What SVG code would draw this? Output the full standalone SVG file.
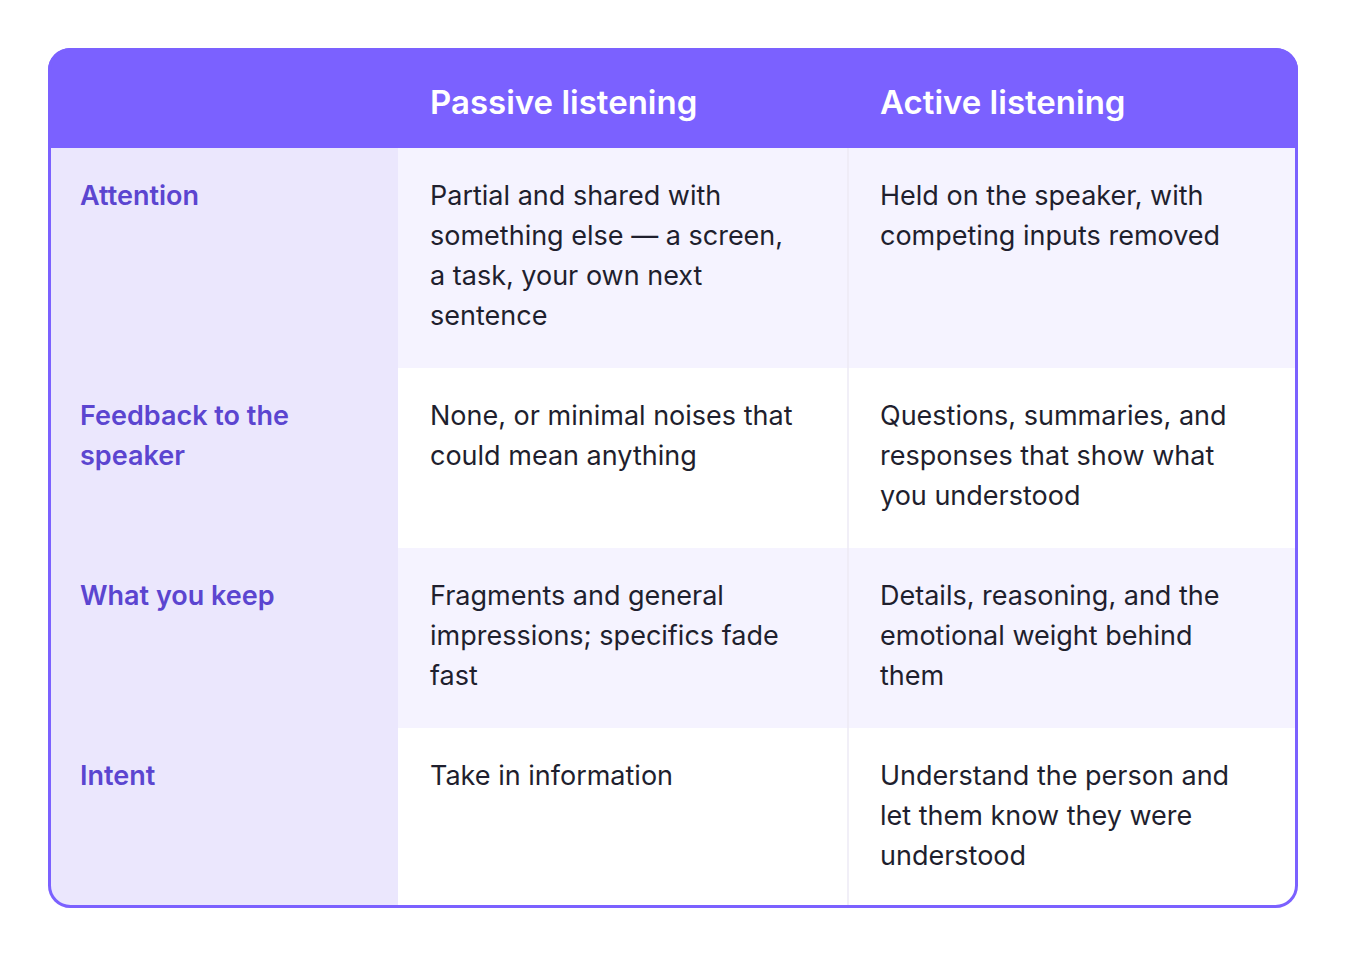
<svg xmlns="http://www.w3.org/2000/svg" width="1346" height="956" viewBox="0 0 1346 956">
<style>
.h{font-family:Inter,"Liberation Sans",sans-serif;font-size:33px;font-weight:600;fill:#fff}
.l{font-family:Inter,"Liberation Sans",sans-serif;font-size:27px;font-weight:600;fill:#5B45D0}
.t{font-family:Inter,"Liberation Sans",sans-serif;font-size:27px;fill:#1f1f2e}
</style>
<defs><clipPath id="c"><rect x="48" y="48" width="1250" height="860" rx="22"/></clipPath></defs>
<rect width="1346" height="956" fill="#fff"/>
<g clip-path="url(#c)">
<rect x="48" y="48" width="1250" height="860" fill="#fff"/>
<rect x="48" y="48" width="1250" height="100" fill="#7B61FF"/>
<rect x="48" y="148" width="350" height="760" fill="#EBE7FD"/>
<rect x="398" y="148" width="900" height="220" fill="#F5F3FF"/>
<rect x="398" y="548" width="900" height="180" fill="#F5F3FF"/>
<line x1="848" y1="148" x2="848" y2="908" stroke="#ECEAF5" stroke-width="1.5"/>
</g>
<rect x="49.5" y="49.5" width="1247" height="857" rx="21" fill="none" stroke="#7B61FF" stroke-width="3"/>
<g id="header"><text class="h" x="430" y="114">Passive listening</text><text class="h" x="880" y="114">Active listening</text></g>
<g id="row1"><text class="l" x="80" y="205">Attention</text>
<text class="t" x="430" y="205">Partial and shared with<tspan x="430" dy="40">something else — a screen,</tspan><tspan x="430" dy="40">a task, your own next</tspan><tspan x="430" dy="40">sentence</tspan></text>
<text class="t" x="880" y="205">Held on the speaker, with<tspan x="880" dy="40">competing inputs removed</tspan></text></g>
<g id="row2"><text class="l" x="80" y="425">Feedback to the<tspan x="80" dy="40">speaker</tspan></text>
<text class="t" x="430" y="425">None, or minimal noises that<tspan x="430" dy="40">could mean anything</tspan></text>
<text class="t" x="880" y="425">Questions, summaries, and<tspan x="880" dy="40">responses that show what</tspan><tspan x="880" dy="40">you understood</tspan></text></g>
<g id="row3"><text class="l" x="80" y="605">What you keep</text>
<text class="t" x="430" y="605">Fragments and general<tspan x="430" dy="40">impressions; specifics fade</tspan><tspan x="430" dy="40">fast</tspan></text>
<text class="t" x="880" y="605">Details, reasoning, and the<tspan x="880" dy="40">emotional weight behind</tspan><tspan x="880" dy="40">them</tspan></text></g>
<g id="row4"><text class="l" x="80" y="785">Intent</text>
<text class="t" x="430" y="785">Take in information</text>
<text class="t" x="880" y="785">Understand the person and<tspan x="880" dy="40">let them know they were</tspan><tspan x="880" dy="40">understood</tspan></text></g>
</svg>
